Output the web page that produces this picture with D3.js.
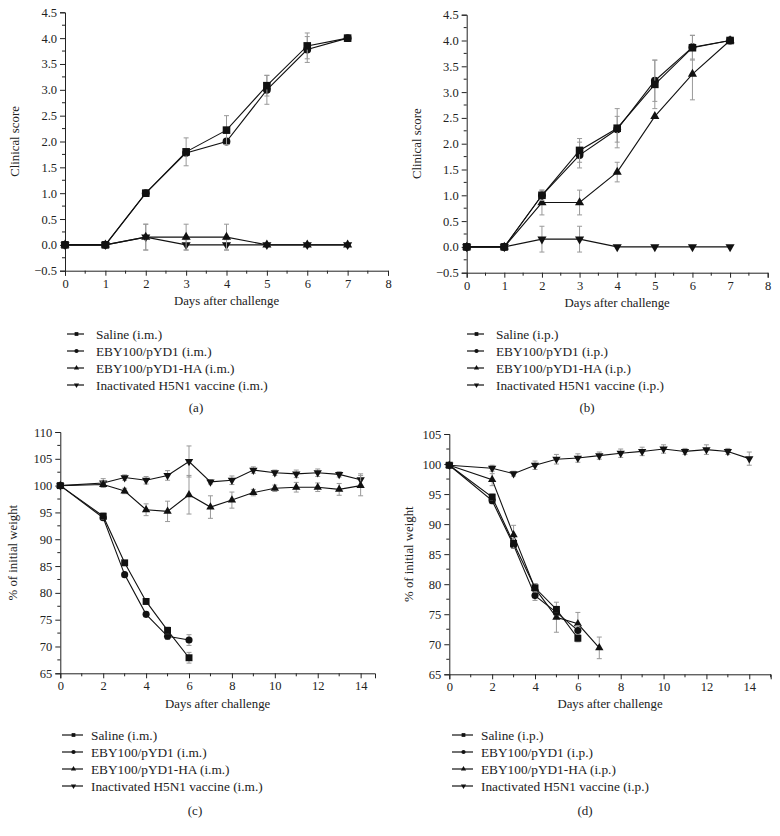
<!DOCTYPE html>
<html><head><meta charset="utf-8">
<script src="https://cdn.jsdelivr.net/npm/d3@7"></script>
<style>body{margin:0;background:#fff}svg{display:block}text{font-family:"Liberation Serif","Times New Roman",serif;fill:#222}</style>
</head><body>
<script>
// ---------- data ----------
const daysScore = [0,1,2,3,4,5,6,7];
const a_saline = [0,0,1.0,1.8,2.22,3.08,3.85,4.0];
const a_saline_err = [0,0,0,0.27,0.28,0.2,0.25,0];
const a_pyd1 = [0,0,1.0,1.78,2.0,3.0,3.78,4.0];
const a_pyd1_err = [0,0,0,0,0,0.28,0.25,0];
const a_ha = [0,0,0.15,0.15,0.15,0,0,0];
const a_ha_err = [0,0,0.25,0.25,0.25,0,0,0];
const a_vac = [0,0,0.15,0,0,0,0,0];
const a_vac_err = [0,0,0.25,0.1,0.1,0,0,0];

const b_saline = [0,0,1.0,1.87,2.3,3.15,3.86,4.0];
const b_saline_err = [0,0,0.1,0.23,0.38,0.47,0.24,0];
const b_pyd1 = [0,0,1.0,1.78,2.28,3.22,3.87,4.0];
const b_pyd1_err = [0,0,0,0.25,0.25,0.4,0.23,0];
const b_ha = [0,0,0.86,0.86,1.45,2.53,3.35,4.0];
const b_ha_err = [0,0,0.24,0.24,0.19,0,0.5,0];
const b_vac = [0,0,0.15,0.15,0,0,0,0];
const b_vac_err = [0,0,0.25,0.25,0,0,0,0];

const daysLong = [0,2,3,4,5,6,7,8,9,10,11,12,13,14];
const daysShort = [0,2,3,4,5,6];
const daysHaD = [0,2,3,4,5,6,7];

const c_vac = [100,100.5,101.5,101,101.9,104.5,100.7,101,102.9,102.4,102.2,102.4,102.1,101.1];
const c_vac_err = [0,0.8,0.5,0.7,0.9,2.9,0.4,0.8,0.6,0.5,0.7,0.7,0.5,1.1];
const c_ha = [100,100.2,99,95.5,95.2,98.3,96,97.3,98.7,99.5,99.7,99.7,99.3,100];
const c_ha_err = [0,0.5,0.5,1.1,1.9,3.6,2.1,1.5,0.6,0.6,0.9,0.8,1.1,1.9];
const c_saline = [100,94.3,85.6,78.4,73.0,67.9];
const c_saline_err = [0,0.6,0,0.5,0.6,1.0];
const c_pyd1 = [100,94.0,83.4,76.0,71.9,71.2];
const c_pyd1_err = [0,0,0,0.5,0.6,1.0];

const d_vac = [99.8,99.3,98.4,99.8,100.8,101,101.4,101.8,102.1,102.5,102.1,102.4,102.1,100.9];
const d_vac_err = [0,0.5,0.4,0.7,0.8,0.7,0.6,0.7,0.7,0.7,0.5,0.8,0.5,1.1];
const d_ha = [99.8,97.4,88.2,79.3,74.5,73.4,69.4];
const d_ha_err = [0,1.0,1.6,0.8,2.5,1.9,1.8];
const d_saline = [99.8,94.5,86.8,79.4,75.8,71.0];
const d_saline_err = [0,0.5,0.8,0.7,0.5,0.6];
const d_pyd1 = [99.8,93.9,86.5,78.1,75.3,72.3];
const d_pyd1_err = [0,0.5,0.5,0.8,0.5,0.8];

const scoreTicks = [-0.5,0,0.5,1,1.5,2,2.5,3,3.5,4,4.5];
const dayTicksA = [0,1,2,3,4,5,6,7,8];
const dayTicksC = [0,2,4,6,8,10,12,14];
const weightTicksC = [65,70,75,80,85,90,95,100,105,110];
const weightTicksD = [65,70,75,80,85,90,95,100,105];

const namesIM = ["Saline (i.m.)","EBY100/pYD1 (i.m.)","EBY100/pYD1-HA (i.m.)","Inactivated H5N1 vaccine (i.m.)"];
const namesIP = ["Saline (i.p.)","EBY100/pYD1 (i.p.)","EBY100/pYD1-HA (i.p.)","Inactivated H5N1 vaccine (i.p.)"];
const shapes = ["square","circle","up","down"];

// ---------- drawing ----------
const svg = d3.select("body").append("svg").attr("width",780).attr("height",836);

function symbolPath(shape, size){
  const t = {square:d3.symbolSquare, circle:d3.symbolCircle, up:d3.symbolTriangle, down:d3.symbolTriangle}[shape];
  return d3.symbol().type(t).size(size)();
}

function panel(cfg){
  const g = svg.append("g");
  const x = d3.scaleLinear().domain(cfg.xDomain).range(cfg.xRange);
  const y = d3.scaleLinear().domain(cfg.yDomain).range(cfg.yRange);
  const y0 = cfg.yRange[0], x0 = cfg.xRange[0];

  // axes
  const xa = g.append("g").attr("transform",`translate(0,${y0})`)
    .call(d3.axisBottom(x).tickValues(cfg.xTicks).tickFormat(d3.format("d")).tickSize(5).tickPadding(3));
  xa.append("g").selectAll("line").data(cfg.xMinor).join("line")
    .attr("x1",d=>x(d)).attr("x2",d=>x(d)).attr("y1",0).attr("y2",3).attr("stroke","#222");
  const ya = g.append("g").attr("transform",`translate(${x0},0)`)
    .call(d3.axisLeft(y).tickValues(cfg.yTicks).tickFormat(cfg.yFormat).tickSize(5).tickPadding(3));
  ya.append("g").selectAll("line").data(cfg.yMinor).join("line")
    .attr("y1",d=>y(d)).attr("y2",d=>y(d)).attr("x1",0).attr("x2",-3).attr("stroke","#222");
  [xa,ya].forEach(a=>{
    a.select(".domain").attr("stroke","#222");
    a.selectAll(".tick line").attr("stroke","#222");
    a.selectAll("text").style("font-size","12.5px").style("font-family",'"Liberation Serif",serif').attr("fill","#222");
  });

  // titles
  g.append("text").attr("x",(cfg.xRange[0]+cfg.xRange[1])/2).attr("y",cfg.xTitleY)
    .attr("text-anchor","middle").style("font-size","12.8px").text("Days after challenge");
  g.append("text").attr("transform",`translate(${cfg.yTitleX},${(cfg.yRange[0]+cfg.yRange[1])/2}) rotate(-90)`)
    .attr("text-anchor","middle").attr("dy","0.35em").style("font-size","12.8px").text(cfg.yTitle);

  // series
  const sizes = {square:48, circle:40, up:30, down:30};
  cfg.series.forEach((s,i)=>{
    const pts = s.days.map((d,k)=>({x:d,y:s.vals[k],e:s.err[k]}));
    const sg = g.append("g");
    // error bars
    pts.filter(p=>p.e>0).forEach(p=>{
      const cx=x(p.x), t=y(p.y+p.e), b=y(p.y-p.e);
      sg.append("line").attr("x1",cx).attr("x2",cx).attr("y1",t).attr("y2",b).attr("stroke","#999").attr("stroke-width",1);
      [t,b].forEach(yy=>sg.append("line").attr("x1",cx-2.5).attr("x2",cx+2.5).attr("y1",yy).attr("y2",yy).attr("stroke","#999").attr("stroke-width",1));
    });
    sg.append("path").datum(pts).attr("d",d3.line().x(p=>x(p.x)).y(p=>y(p.y)))
      .attr("fill","none").attr("stroke","#111").attr("stroke-width",1.1);
    sg.selectAll("path.m").data(pts).join("path").attr("class","m")
      .attr("d",symbolPath(s.shape,sizes[s.shape]*cfg.markScale))
      .attr("transform",p=>`translate(${x(p.x)},${y(p.y)})${s.shape==="down"?" rotate(180)":""}`)
      .attr("fill","#111");
  });

  // legend
  const lg = g.append("g");
  cfg.names.forEach((n,i)=>{
    const yy = cfg.legY + i*17;
    lg.append("line").attr("x1",cfg.legX0).attr("x2",cfg.legX1).attr("y1",yy).attr("y2",yy).attr("stroke","#111").attr("stroke-width",1.2);
    lg.append("path").attr("d",symbolPath(shapes[i],shapes[i]==="circle"?14:(shapes[i]==="square"?14:12)))
      .attr("transform",`translate(${(cfg.legX0+cfg.legX1)/2+1},${yy})${shapes[i]==="down"?" rotate(180)":""}`).attr("fill","#111");
    lg.append("text").attr("x",cfg.legTX).attr("y",yy).attr("dy","0.35em").style("font-size","13.3px").text(n);
  });
  g.append("text").attr("x",cfg.capX).attr("y",cfg.capY).attr("text-anchor","middle").attr("dy","0.35em").style("font-size","13px").text(cfg.cap);
}

const fmt1 = d3.format(".1f");
const fmt0 = d3.format("d");
const halfMinor = (t)=>t.slice(0,-1).map((v,i)=>(v+t[i+1])/2);

panel({xDomain:[0,8], xRange:[65,388], yDomain:[-0.5,4.5], yRange:[270.7,12.3],
  xTicks:dayTicksA, xMinor:halfMinor(dayTicksA), yTicks:scoreTicks, yMinor:halfMinor(scoreTicks), yFormat:fmt1,
  xTitleY:305, yTitleX:15, yTitle:"Clinical score", markScale:1.2,
  series:[
    {days:daysScore, vals:a_vac, err:a_vac_err, shape:"down"},
    {days:daysScore, vals:a_ha, err:a_ha_err, shape:"up"},
    {days:daysScore, vals:a_pyd1, err:a_pyd1_err, shape:"circle"},
    {days:daysScore, vals:a_saline, err:a_saline_err, shape:"square"}],
  names:namesIM, legY:334, legX0:67, legX1:84, legTX:96, cap:"(a)", capX:196, capY:407});

panel({xDomain:[0,8], xRange:[466.7,767.7], yDomain:[-0.5,4.5], yRange:[272.7,14.7],
  xTicks:dayTicksA, xMinor:halfMinor(dayTicksA), yTicks:scoreTicks, yMinor:halfMinor(scoreTicks), yFormat:fmt1,
  xTitleY:307, yTitleX:417, yTitle:"Clinical score", markScale:1.2,
  series:[
    {days:daysScore, vals:b_vac, err:b_vac_err, shape:"down"},
    {days:daysScore, vals:b_ha, err:b_ha_err, shape:"up"},
    {days:daysScore, vals:b_pyd1, err:b_pyd1_err, shape:"circle"},
    {days:daysScore, vals:b_saline, err:b_saline_err, shape:"square"}],
  names:namesIP, legY:334, legX0:467, legX1:484, legTX:496, cap:"(b)", capX:587, capY:407});

panel({xDomain:[0,14.67], xRange:[60.3,375], yDomain:[65,110], yRange:[673.3,432],
  xTicks:dayTicksC, xMinor:[1,3,5,7,9,11,13], yTicks:weightTicksC, yMinor:halfMinor(weightTicksC), yFormat:fmt0,
  xTitleY:708, yTitleX:13, yTitle:"% of initial weight", markScale:1.0,
  series:[
    {days:daysLong, vals:c_vac, err:c_vac_err, shape:"down"},
    {days:daysLong, vals:c_ha, err:c_ha_err, shape:"up"},
    {days:daysShort, vals:c_pyd1, err:c_pyd1_err, shape:"circle"},
    {days:daysShort, vals:c_saline, err:c_saline_err, shape:"square"}],
  names:namesIM, legY:735, legX0:62, legX1:83, legTX:91, cap:"(c)", capX:195, capY:810});

panel({xDomain:[0,15], xRange:[449.3,770.7], yDomain:[65,105], yRange:[674.3,434],
  xTicks:dayTicksC, xMinor:[1,3,5,7,9,11,13,15], yTicks:weightTicksD, yMinor:halfMinor(weightTicksD), yFormat:fmt0,
  xTitleY:708, yTitleX:409, yTitle:"% of initial weight", markScale:1.0,
  series:[
    {days:daysLong, vals:d_vac, err:d_vac_err, shape:"down"},
    {days:daysHaD, vals:d_ha, err:d_ha_err, shape:"up"},
    {days:daysShort, vals:d_pyd1, err:d_pyd1_err, shape:"circle"},
    {days:daysShort, vals:d_saline, err:d_saline_err, shape:"square"}],
  names:namesIP, legY:735, legX0:452, legX1:473, legTX:481, cap:"(d)", capX:585, capY:810});
</script>
</body></html>
